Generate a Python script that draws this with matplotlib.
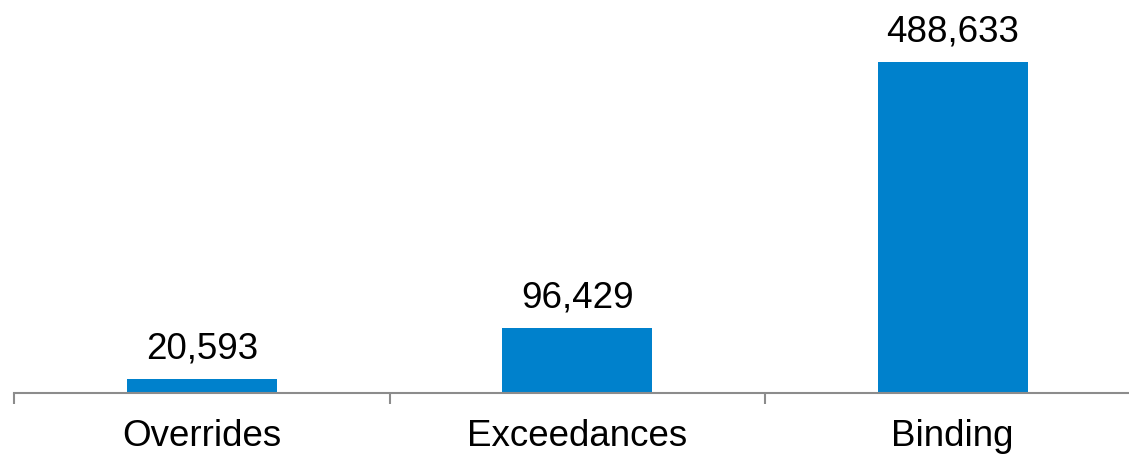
import numpy as np
import matplotlib.pyplot as plt
from matplotlib.ticker import FixedLocator

categories = ['Overrides', 'Exceedances', 'Binding']
values = [20593, 96429, 488633]

plt.rcParams['font.family'] = ['Liberation Sans', 'DejaVu Sans']

fig = plt.figure(figsize=(11.29, 4.54), dpi=100)
W, H = 1129, 454
left, right = 14, 1140.5
ax = fig.add_axes([left / W, 61 / H, (right - left) / W, 393 / H])

x = np.arange(len(categories))
ax.bar(x, values, width=0.4, color='#0081CC')
for xi, v in zip(x, values):
    ax.annotate(f'{v:,}', (xi, v), xytext=(0, 9), textcoords='offset points',
                ha='center', va='bottom', fontsize=26.5)

ax.set_xlim(-0.5, len(categories) - 0.5)
ax.set_ylim(0, 488633 * 393 / 331)
ax.set_xticks(x)
ax.set_xticklabels(categories, fontsize=26.5)
ax.tick_params(axis='x', which='major', length=0, pad=19)
ax.xaxis.set_minor_locator(FixedLocator(np.arange(-0.5, len(categories), 1)))
ax.tick_params(axis='x', which='minor', length=8, width=1.5, color='#8c8c8c')
ax.set_yticks([])
for s in ['top', 'right', 'left']:
    ax.spines[s].set_visible(False)
ax.spines['bottom'].set_color('#8c8c8c')
ax.spines['bottom'].set_linewidth(1.5)
ax.patch.set_visible(False)

fig.savefig('out.png', dpi=100)
